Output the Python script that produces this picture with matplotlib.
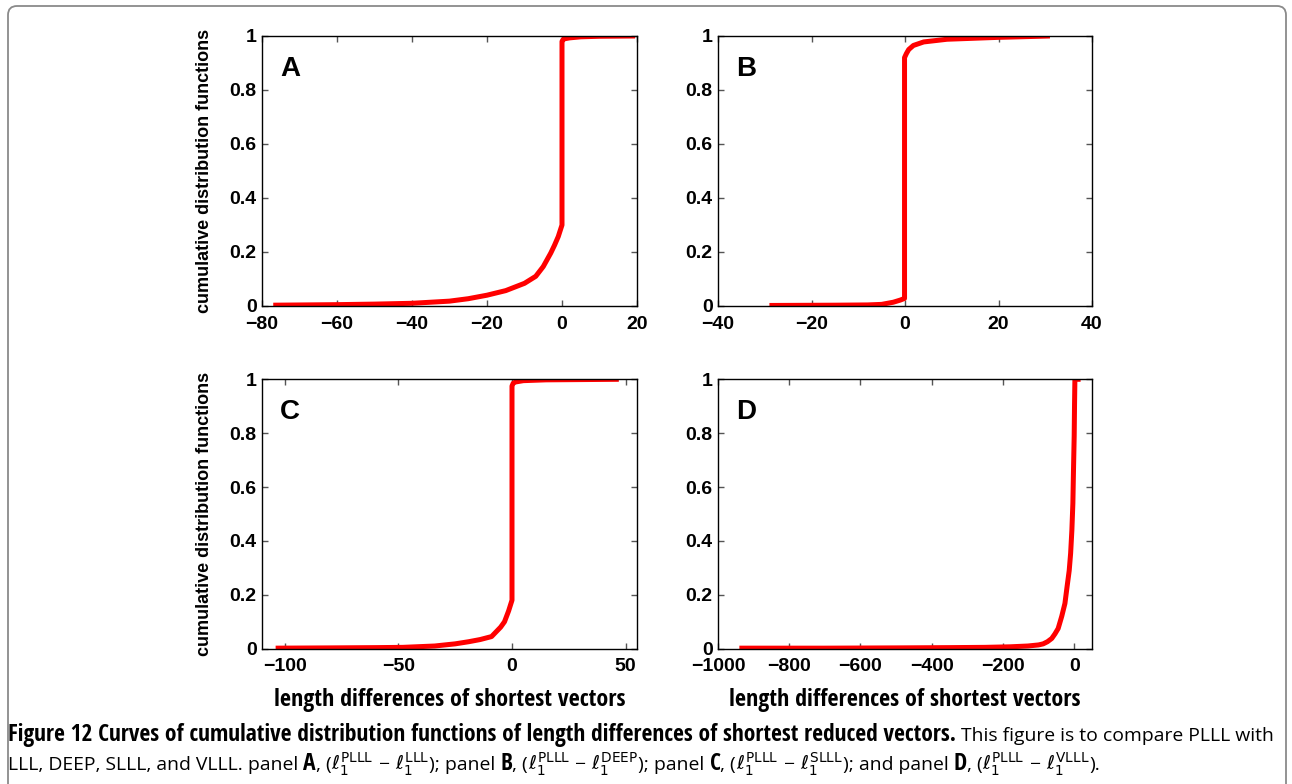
import matplotlib
matplotlib.use("Agg")
import matplotlib.pyplot as plt
from matplotlib import font_manager
from matplotlib.font_manager import FontProperties
from matplotlib.patches import FancyBboxPatch
from matplotlib.transforms import IdentityTransform

# ---------------- data ----------------
A_x = [-77, -60, -50, -40, -30, -25, -20, -15, -10, -7, -5, -3, -2, -1, 0, 0, 0.3, 0.8, 2, 5, 10, 19.5]
A_y = [0.003, 0.005, 0.007, 0.010, 0.018, 0.027, 0.040, 0.057, 0.084, 0.11, 0.146, 0.196, 0.225, 0.257, 0.30,
       0.98, 0.987, 0.990, 0.993, 0.997, 0.999, 1.0]

B_x = [-29, -15, -8, -5, -2.5, -1, -0.1, -0.1, 0.3, 0.8, 1.8, 4, 9, 20, 31]
B_y = [0.002, 0.003, 0.004, 0.006, 0.014, 0.022, 0.028, 0.92, 0.935, 0.95, 0.965, 0.978, 0.988, 0.995, 1.0]

C_x = [-104, -80, -60, -48, -34, -25, -19, -14, -9, -5, -3.3, -1.5, 0, 0, 0.5, 1.5, 5, 15, 47]
C_y = [0.002, 0.003, 0.004, 0.005, 0.010, 0.018, 0.026, 0.034, 0.045, 0.08, 0.10, 0.14, 0.18,
       0.975, 0.985, 0.990, 0.995, 0.998, 1.0]

D_x = [-940, -700, -500, -350, -250, -180, -130, -100, -87, -75, -63, -54, -45, -35, -26, -20,
       -14, -10, -6.5, -3.7, -2, 0, 1, 2, 18]
D_y = [0.002, 0.002, 0.003, 0.004, 0.005, 0.007, 0.010, 0.014, 0.018, 0.026, 0.038, 0.055, 0.075,
       0.12, 0.168, 0.23, 0.29, 0.354, 0.44, 0.54, 0.66, 0.79, 0.91, 1.0, 1.0]

panel_letters = ["A", "B", "C", "D"]
xlims = [(-80, 20), (-40, 40), (-110, 55), (-1000, 50)]
xticks = [[-80, -60, -40, -20, 0, 20], [-40, -20, 0, 20, 40], [-100, -50, 0, 50],
          [-1000, -800, -600, -400, -200, 0]]
yticks = [0, 0.2, 0.4, 0.6, 0.8, 1]
ytick_labels = ["0", "0.2", "0.4", "0.6", "0.8", "1"]
ylabel_text = "cumulative distribution functions"
xlabel_text = "length differences of shortest vectors"
methods = ["LLL", "DEEP", "SLLL", "VLLL"]

# ---------------- fonts ----------------
ttf = font_manager.fontManager.ttflist
names = {f.name for f in ttf}
chart_font = "Liberation Sans" if "Liberation Sans" in names else "DejaVu Sans"
cap_font = "Open Sans" if "Open Sans" in names else "DejaVu Sans"


def is_bold(f):
    w = f.weight
    if isinstance(w, str):
        return w in ("bold", "heavy", "extra bold", "black", "demibold", "semibold")
    return w >= 600


def narrow(f):
    s = str(f.stretch)
    return ("Condensed" in f.name or "Narrow" in f.name or
            s in ("condensed", "semi-condensed", "extra-condensed", "ultra-condensed") or
            (isinstance(f.stretch, (int, float)) and f.stretch < 500) or
            "ondensed" in f.fname or "Narrow" in f.fname)


cond_bold = None
for pref in ["Open Sans", "Noto Sans", "Roboto", "Liberation Sans", "DejaVu Sans", ""]:
    for f in ttf:
        if pref in f.name and is_bold(f) and narrow(f) and f.style == "normal":
            cond_bold = FontProperties(fname=f.fname)
            break
    if cond_bold is not None:
        break
if cond_bold is None:
    cond_bold = FontProperties(family=[cap_font, "DejaVu Sans"], weight="bold")
regular = FontProperties(family=[cap_font, "DejaVu Sans"], weight="normal")

plt.rcParams["font.family"] = [chart_font, "DejaVu Sans"]
plt.rcParams["axes.unicode_minus"] = True
plt.rcParams["mathtext.fontset"] = "custom"
plt.rcParams["mathtext.rm"] = cap_font + ":weight=normal"
plt.rcParams["mathtext.it"] = cap_font + ":italic:weight=normal"
plt.rcParams["mathtext.bf"] = cap_font + ":weight=bold"

W, H = 1292, 784
fig = plt.figure(figsize=(W / 100, H / 100), dpi=100)
renderer = fig.canvas.get_renderer()


def text_w(s, fp, size, math=False):
    p = fp.copy()
    p.set_size(size)
    if math:
        t = fig.text(0, 0, s, fontproperties=p, transform=IdentityTransform())
        w = t.get_window_extent(renderer).width
        t.remove()
        return w
    t1 = fig.text(0, 0, "|" + s + "|", fontproperties=p, transform=IdentityTransform())
    t2 = fig.text(0, 0, "||", fontproperties=p, transform=IdentityTransform())
    w = t1.get_window_extent(renderer).width - t2.get_window_extent(renderer).width
    t1.remove()
    t2.remove()
    return w


# axes rectangles in pixels: (left, top, right, bottom)
rects = [(262, 36, 637, 306), (718, 36, 1092, 306),
         (262, 379.3, 637, 648.7), (718, 379.3, 1092, 648.7)]
series = [(A_x, A_y), (B_x, B_y), (C_x, C_y), (D_x, D_y)]

xl_size = 11.0 * 350.0 / text_w(xlabel_text, cond_bold, 11.0)
xl_fp = cond_bold.copy()
xl_fp.set_size(xl_size)

for i, (l, t, r, b) in enumerate(rects):
    ax = fig.add_axes([l / W, (H - b) / H, (r - l) / W, (b - t) / H])
    xs, ys = series[i]
    ax.plot(xs, ys, color="#ff0000", lw=3.6, solid_capstyle="butt", solid_joinstyle="round")
    ax.set_xlim(*xlims[i])
    ax.set_ylim(0, 1)
    ax.set_xticks(xticks[i])
    ax.set_xticklabels([("\u2212%d" % -v) if v < 0 else "%d" % v for v in xticks[i]],
                       fontweight="bold", fontsize=14)
    ax.set_yticks(yticks)
    ax.set_yticklabels(ytick_labels, fontweight="bold", fontsize=14)
    ax.tick_params(axis="both", direction="in", top=True, right=True, length=4, width=1,
                   color="#555555", labelcolor="black")
    ax.tick_params(axis="x", pad=7.0)
    ax.tick_params(axis="y", pad=3.8)
    for sp in ax.spines.values():
        sp.set_linewidth(1.0)
        sp.set_color("black")
    ax.text(0.048, 0.852, panel_letters[i], transform=ax.transAxes, fontsize=20,
            fontweight="bold", ha="left", va="baseline")
    if i in (0, 2):
        ax.set_ylabel(ylabel_text, fontsize=13, fontweight="bold")
        ax.yaxis.set_label_coords(-0.131, 0.5)
    if i in (2, 3):
        ax.set_xlabel(xlabel_text, fontproperties=xl_fp)
        ax.xaxis.set_label_coords(0.5, -0.146)

# outer rounded frame
frame = FancyBboxPatch((8, -30), 1278, H - 6 + 30, boxstyle="round,pad=0,rounding_size=9",
                       transform=IdentityTransform(), fill=False, edgecolor="#8a8a8a", lw=1.3)
fig.patches.append(frame)

# ---------------- caption ----------------


def draw_line(segs, x0, ybase, sizes):
    x = x0
    for s, kind in segs:
        if kind == "b":
            fp, sz, m = cond_bold, sizes[0], False
        elif kind == "m":
            fp, sz, m = regular, sizes[1], True
        else:
            fp, sz, m = regular, sizes[1], False
        p = fp.copy()
        p.set_size(sz)
        fig.text(x, ybase, s, fontproperties=p, transform=IdentityTransform(),
                 ha="left", va="baseline")
        x += text_w(s, fp, sz, m)


def ell(a):
    return r"$\ell_1^{\mathrm{%s}}$" % a


bold_title = "Figure 12 Curves of cumulative distribution functions of length differences of shortest reduced vectors."
reg_tail = " This figure is to compare PLLL with"
line1 = [(bold_title, "b"), (reg_tail, "r")]
line2 = [("LLL, DEEP, SLLL, and VLLL. ", "r")]
for k, (letter, mname) in enumerate(zip(panel_letters, methods)):
    line2.append(("panel " if k < 3 else "and panel ", "r"))
    line2.append((letter, "b"))
    line2.append((", (", "r"))
    line2.append((ell("PLLL"), "m"))
    line2.append((" \u2212 ", "r"))
    line2.append((ell(mname), "m"))
    line2.append((")" + ("; " if k < 3 else "."), "r"))

rsize = 12.0 * 171.0 / text_w("compare PLLL with", regular, 12.0)
bsize = 12.0 * (1264.0 - text_w(reg_tail, regular, rsize)) / text_w(bold_title, cond_bold, 12.0)
draw_line(line1, 8, H - 741, (bsize, rsize))
draw_line(line2, 8, H - 770, (bsize, rsize))

fig.savefig("out.png", dpi=100)
